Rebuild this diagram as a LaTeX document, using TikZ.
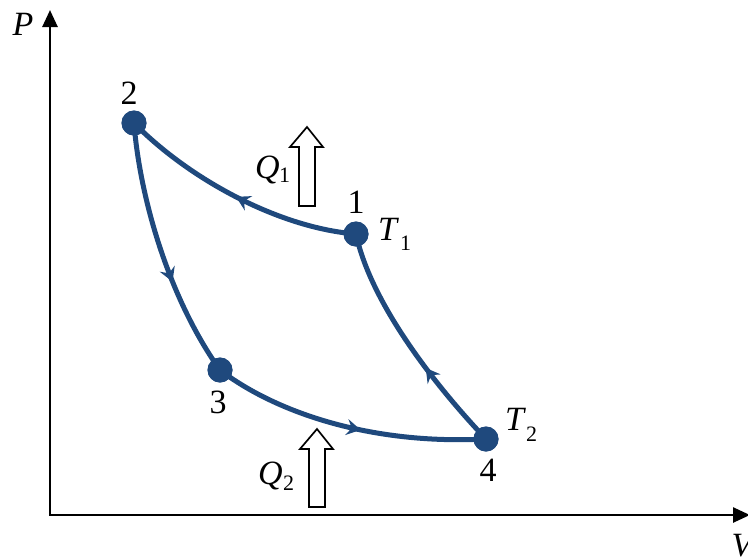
\documentclass[tikz,border=0pt]{standalone}
\usepackage{fontspec}
\setmainfont{Liberation Serif}
\usetikzlibrary{arrows.meta,decorations.markings}
\definecolor{cyc}{RGB}{31,73,125}
\begin{document}
\begin{tikzpicture}[x=1pt,y=-1pt,
  dot/.style={circle,fill=cyc,inner sep=0pt,minimum size=25pt},
  lbl/.style={font=\fontsize{34}{34}\selectfont,inner sep=0pt},
  sub/.style={font=\fontsize{22}{22}\selectfont,inner sep=0pt},
  curve/.style={draw=cyc,line width=5pt},
  mk/.style={postaction={decorate},decoration={markings,mark=at position #1 with {\arrow{Stealth[length=14pt,width=16pt,inset=5pt]}}}},
  axis/.style={line width=2.6pt},
  block/.style={draw,line width=1.7pt,fill=white,line join=miter}]
\useasboundingbox (0,0) rectangle (748,558);
% axes
\coordinate (O) at (50,515);
\coordinate (Ytip) at (50,10);
\coordinate (Xtip) at (750,515);
\draw[axis,{Triangle[length=17pt,width=15pt]}-{Triangle[length=17pt,width=15pt]}] (Ytip) -- (O) -- (Xtip);
\node[lbl,font=\fontsize{34}{34}\selectfont\itshape] (P) at (23,24) {P};
\node[lbl,font=\fontsize{34}{34}\selectfont\itshape] (V) at (742,546) {V};
% state points
\node[dot] (p1) at (356,234) {};
\node[dot] (p2) at (134,123) {};
\node[dot] (p3) at (220,370) {};
\node[dot] (p4) at (486,439) {};
% cycle
\draw[curve,mk=0.5] (p1.center) .. controls (280,228) and (190,180) .. (p2.center);
\draw[curve,mk=0.62] (p2.center) .. controls (140,200) and (170,300) .. (p3.center);
\draw[curve,mk=0.55] (p3.center) .. controls (275,412) and (370,445) .. (p4.center);
\draw[curve,mk=0.38] (p4.center) .. controls (430,380) and (370,300) .. (p1.center);
\node[dot] at (p1) {};
\node[dot] at (p2) {};
\node[dot] at (p3) {};
\node[dot] at (p4) {};
% numbers
\node[lbl] (n2) at (129,93) {2};
\node[lbl] (n1) at (356,202) {1};
\node[lbl] (n3) at (218,402) {3};
\node[lbl] (n4) at (488,470) {4};
% temperatures
\node[lbl,anchor=base west] (t1) at (378,240) {\textit{T}};
\node[sub,anchor=base west] (t1s) at (400,250) {1};
\node[lbl,anchor=base west] (t2) at (505,430) {\textit{T}};
\node[sub,anchor=base west] (t2s) at (526,441) {2};
% heats
\node[lbl,anchor=base west] (q1) at (255,178) {\textit{Q}};
\node[sub,anchor=base west] (q1s) at (279,182) {1};
\node[lbl,anchor=base west] (q2) at (258,484) {\textit{Q}};
\node[sub,anchor=base west] (q2s) at (283,490) {2};
% block arrows
\draw[block] (307,127) -- (323,147) -- (315,147) -- (315,206) -- (299,206) -- (299,147) -- (290,147) -- cycle;
\draw[block] (317,429) -- (333,449) -- (325,449) -- (325,507) -- (309,507) -- (309,449) -- (300,449) -- cycle;
\end{tikzpicture}
\end{document}
